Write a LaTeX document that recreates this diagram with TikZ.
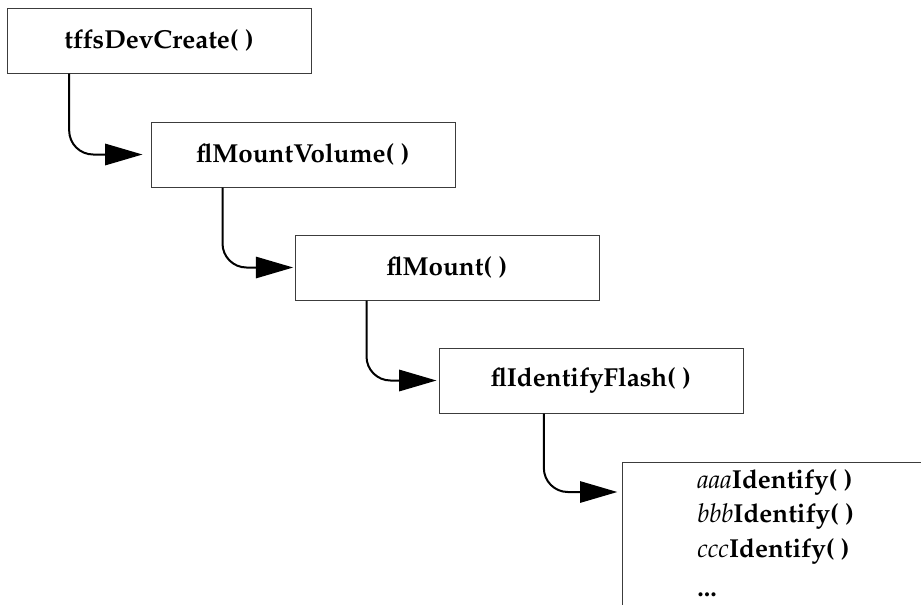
\documentclass[tikz,border=0pt]{standalone}
\usepackage[T1]{fontenc}
\usepackage{mathpazo}
\usetikzlibrary{arrows.meta}

\tikzset{
  funcbox/.style={draw={rgb, 255:red, 60; green, 60; blue, 60}, line width=0.75pt, minimum width=228pt, minimum height=48.75pt, inner sep=0pt, font=\fontsize{19.5}{23}\selectfont\bfseries},
  callarrow/.style={line width=1.5pt, rounded corners=18pt, -{Triangle[length=28pt,width=16pt]}}
}

\begin{document}
\begin{tikzpicture}[x=0.75pt,y=0.75pt,yscale=-1,xscale=1]
\useasboundingbox (0,0) rectangle (921,604);

%Shape: Rectangle [tffsDevCreate]
\node [funcbox] (devcreate) at (159,40.5) {tffsDevCreate( )};
%Shape: Rectangle [flMountVolume]
\node [funcbox] (mountvol) at (303,154.5) {flMountVolume( )};
%Shape: Rectangle [flMount]
\node [funcbox] (mount) at (447,267.5) {flMount( )};
%Shape: Rectangle [flIdentifyFlash]
\node [funcbox] (identflash) at (591,380.5) {flIdentifyFlash( )};
%Shape: Rectangle [runs off the page]
\node [funcbox, anchor=north west, minimum width=300pt, minimum height=150pt] (identlist) at (622,462) {};

% Text Node
\node [anchor=north west, inner sep=0pt, align=left, font=\fontsize{19.5}{26}\selectfont] (idents) at (697,469)
  {\textit{aaa}\textbf{Identify( )}\\ \textit{bbb}\textbf{Identify( )}\\ \textit{ccc}\textbf{Identify( )}\\[3pt] \textbf{...}};

%Curve Lines
\draw [callarrow] ([xshift=47pt]devcreate.south west) |- ([xshift=-6pt]mountvol.west);
%Curve Lines
\draw [callarrow] ([xshift=54pt]mountvol.south west) |- ([xshift=-1pt]mount.west);
%Curve Lines
\draw [callarrow] ([xshift=54pt]mount.south west) |- ([xshift=-1.5pt]identflash.west);
%Curve Lines
\draw [callarrow] ([xshift=79pt]identflash.south west) |- ([xshift=-3.5pt,yshift=22.5pt]identlist.north west);

\end{tikzpicture}
\end{document}
